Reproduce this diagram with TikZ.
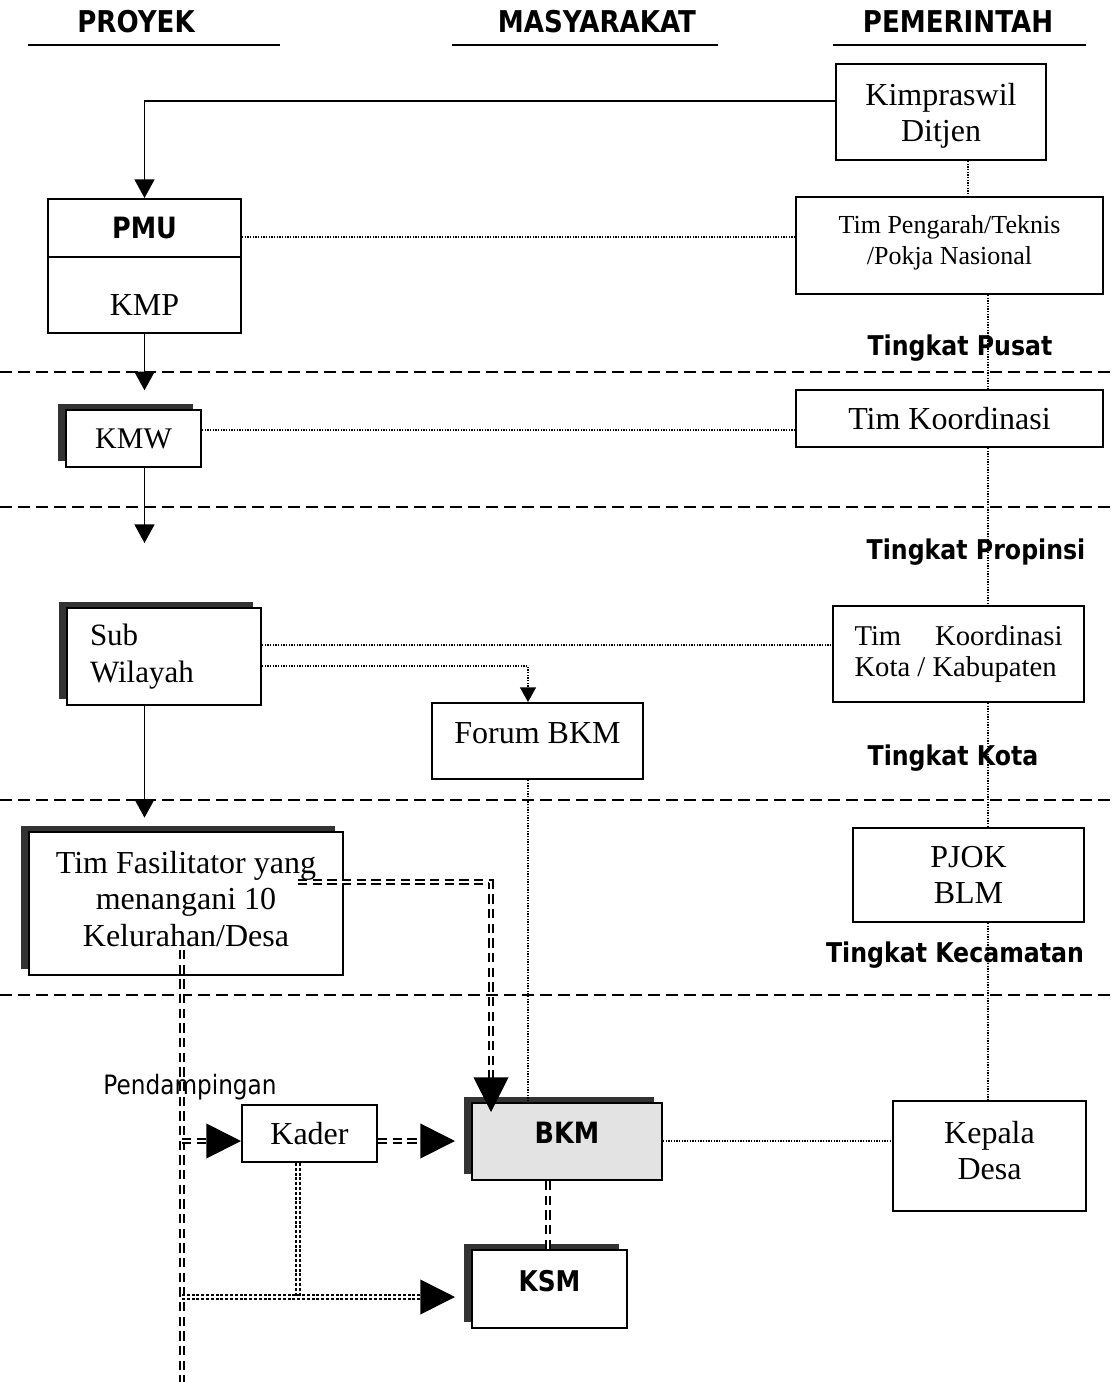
\documentclass[tikz,border=0pt]{standalone}
\usepackage{fontspec}
\setmainfont{Liberation Serif}
\newfontfamily\tah{DejaVu Sans}[FakeStretch=0.87]
\usetikzlibrary{arrows.meta,calc,shadows}

% font sizes (picture units are screen pixels, 1px = 0.75pt)
\newcommand\fbig{\fontsize{24pt}{27pt}\selectfont}
\newcommand\fmid{\fontsize{21.5pt}{23.25pt}\selectfont}
\newcommand\fsmall{\fontsize{19.5pt}{23.25pt}\selectfont}
\newcommand\fhead{\tah\bfseries\fontsize{22.5pt}{26pt}\selectfont}
\newcommand\flevel{\tah\bfseries\fontsize{20.4pt}{24pt}\selectfont}
\newcommand\fbold{\tah\bfseries\fontsize{22pt}{26pt}\selectfont}
% invisible struts that move a text block inside its box
\newcommand\lowstrut[1]{\rule[-#1]{0pt}{#1}}
\newcommand\highstrut[1]{\rule{0pt}{#1}}

\tikzset{
  box/.style={draw, line width=1.5pt, fill=white, inner sep=0pt},
  % a box given by its left, top, right and bottom edges in pixels
  spanbox/.style n args={4}{at={({(#1+#3)/2},{(#2+#4)/2})},
      minimum width={(#3-#1)*0.75pt}, minimum height={(#4-#2)*0.75pt}},
  shadowed/.style={general shadow={fill=black!80, shadow xshift=-6pt, shadow yshift=4.5pt}},
  dotline/.style={line width=1pt, dash pattern=on 1pt off 1pt},
  levelline/.style={line width=1.3pt, dash pattern=on 9pt off 4.5pt},
  headline/.style={line width=1.6pt},
  solidarrow/.style={line width=1.3pt, -{Triangle[length=14pt,width=15pt]}},
  smalltip/.style={-{Triangle[length=11pt,width=12pt]}},
  dbl/.style={double, double distance=2pt, line width=1.4pt, dash pattern=on 7pt off 4pt},
  dbldot/.style={double, double distance=1.6pt, line width=1.2pt, dash pattern=on 2.2pt off 1.4pt},
  bigtip/.style={-{Triangle[length=26pt,width=26pt]}},
}

\begin{document}
\begin{tikzpicture}[x=0.75pt,y=-0.75pt]
\useasboundingbox (0,0) rectangle (1116,1382);

% column headings
\node[font=\fhead] (hproj) at (136,22) {PROYEK};
\node[font=\fhead] (hmas)  at (597,22) {MASYARAKAT};
\node[font=\fhead] (hpem)  at (958,22) {PEMERINTAH};
\draw[headline] (28,45) -- (280,45);
\draw[headline] (452,45) -- (718,45);
\draw[headline] (833,45) -- (1086,45);

% level separators
\draw[levelline] (0,372) -- (1116,372);
\draw[levelline] (0,507) -- (1116,507);
\draw[levelline] (0,800) -- (1116,800);
\draw[levelline] (0,995) -- (1116,995);

% government column
\node[box, spanbox={836}{64}{1046}{160}, align=center, font=\fbig] (kim) {\highstrut{22.5pt}Kimpraswil\\Ditjen};
\node[box, spanbox={796}{197}{1103}{294}, align=center, font=\fsmall] (tp) {Tim Pengarah/Teknis\\/Pokja Nasional\lowstrut{9pt}};
\node[box, spanbox={796}{390}{1103}{447}, font=\fbig] (tk) {Tim Koordinasi};
\node[box, spanbox={833}{606}{1084}{702}, align=left, font=\fmid] (tkk)
  {\makebox[156pt][l]{Tim\hfill Koordinasi}\\Kota / Kabupaten};
\node[box, spanbox={853}{828}{1084}{922}, align=center, font=\fbig] (pjok) {PJOK\\BLM};
\node[box, spanbox={893}{1101}{1086}{1211}, align=center, font=\fbig] (kd) {Kepala\\Desa\lowstrut{9pt}};

% level labels
\node[font=\flevel] (lpusat) at (960,348) {Tingkat Pusat};
\node[font=\flevel] (lprop)  at (976,552) {Tingkat Propinsi};
\node[font=\flevel] (lkota)  at (953,758) {Tingkat Kota};
\node[font=\flevel] (lkec)   at (955,955) {Tingkat Kecamatan};

% project column
\node[box, spanbox={48}{199}{241}{257}, font=\fbold] (pmuhead) {PMU};
\node[box, spanbox={48}{257}{241}{333}, font=\fbig, text height=31pt, text depth=0pt] (pmubody) {KMP};
\node[box, shadowed, spanbox={66}{410}{201}{467}, font=\fontsize{22.5pt}{26pt}\selectfont] (kmw) {KMW};
\node[box, shadowed, spanbox={67}{608}{261}{705}, align=left, text width=111pt,
      font=\fontsize{23.25pt}{27.75pt}\selectfont] (sw) {Sub\\Wilayah};
\node[box, shadowed, spanbox={29}{832}{343}{975}, align=center, font=\fontsize{24pt}{27.4pt}\selectfont]
      (tf) {Tim Fasilitator yang\\menangani 10\\Kelurahan/Desa\lowstrut{7.5pt}};

% community column
\node[box, spanbox={432}{703}{643}{779}, font=\fbig, text height=16pt, text depth=12pt] (forum) {Forum BKM};
\node[box, shadowed, fill=black!11, spanbox={472}{1103}{662}{1180}, font=\fbold,
      text height=16pt, text depth=13pt] (bkm) {BKM};
\node[box, shadowed, spanbox={472}{1250}{627}{1328}, font=\tah\bfseries\fontsize{21.4pt}{26pt}\selectfont,
      text height=16pt, text depth=13pt] (ksm) {KSM};
\node[box, spanbox={242}{1105}{377}{1162}, font=\fbig] (kader) {Kader};
\node[font=\tah\fontsize{20pt}{24pt}\selectfont] (pend) at (190,1087) {Pendampingan};

% solid command line
\draw[solidarrow] ($(kim.north west)!0.385!(kim.south west)$) -| (pmuhead.north);
\draw[solidarrow, shorten >=14pt] (pmubody.south) -- (pmubody.south |- kmw.north);
\coordinate (a2) at (144.5,543);
\draw[solidarrow] (kmw.south -| a2) -- (a2);
\draw[solidarrow, shorten >=10pt] (sw.south -| a2) -- (tf.north -| a2);

% coordination (dotted) links
\draw[dotline] (pmuhead.east |- 0,237) -- (tp.west |- 0,237);
\draw[dotline] (kmw.east |- 0,430) -- (tk.west |- 0,430);
\draw[dotline] (sw.east |- 0,645) -- (tkk.west |- 0,645);
\coordinate (fx) at (528,0);
\draw[dotline, smalltip] (sw.east |- 0,666) -| (forum.north -| fx);
\draw[dotline] (forum.south -| fx) -- (bkm.north -| fx);
\draw[dotline] (kim.south -| 968,0) -- (tp.north -| 968,0);
\coordinate (spine) at (988,0);
\draw[dotline] (tp.south -| spine) -- (tk.north -| spine);
\draw[dotline] (tk.south -| spine) -- (tkk.north -| spine);
\draw[dotline] (tkk.south -| spine) -- (pjok.north -| spine);
\draw[dotline] (pjok.south -| spine) -- (kd.north -| spine);

% facilitation (double) links
\coordinate (tfo) at (298,882);
\coordinate (tfend) at (491,1112);
\draw[dbl, bigtip] (tfo) -| (tfend);
\coordinate (pd0) at (182,950);
\coordinate (pd1) at (182,1382);
\draw[dbl] (pd0) -- (pd1);
\coordinate (pk) at (182,1141);
\draw[dbl, bigtip] (pk) -- (kader.west |- pk);
\draw[dbl, bigtip, shorten >=12pt] (kader.east |- pk) -- (bkm.west |- pk);
\draw[dotline] (bkm.east |- pk) -- (kd.west |- pk);
\draw[dbl] (bkm.south -| 548,0) -- (ksm.north -| 548,0);
\coordinate (kx) at (298,1297);
\draw[dbldot] (kader.south -| kx) -- (kx);
\draw[dbldot, bigtip, shorten >=12pt] (pd0 |- kx) -- (ksm.west |- kx);
\end{tikzpicture}
\end{document}
